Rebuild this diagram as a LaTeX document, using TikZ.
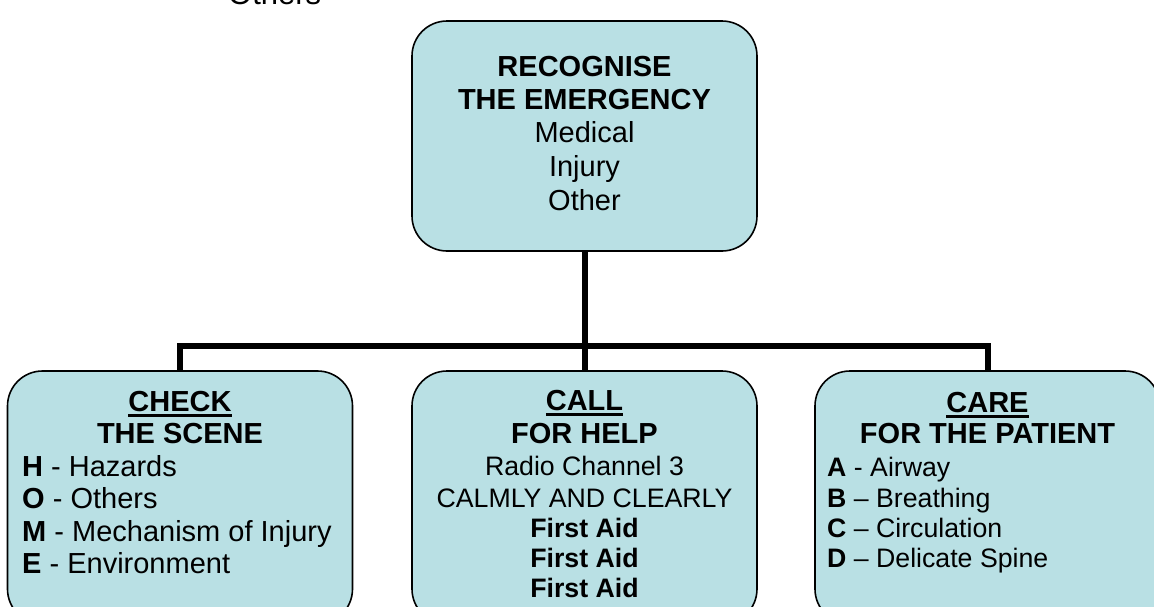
\documentclass[tikz,border=0pt]{standalone}
\usepackage{fontspec}
\setmainfont{Liberation Sans}
\definecolor{boxfill}{RGB}{185,224,228}
% underlined heading word
\newcommand\headul[1]{\setbox0\hbox{#1}\rlap{\rule[-6pt]{\wd0}{2.6pt}}\box0}
\tikzset{
  stepbox/.style={draw=black, line width=1.6pt, fill=boxfill, rounded corners=35pt,
    minimum width=345pt, inner sep=0pt},
  txt/.style={anchor=base, inner sep=0pt, font=\fontsize{29}{33}\selectfont},
  ltxt/.style={anchor=base west, inner sep=0pt, font=\fontsize{29}{33}\selectfont},
  small/.style={font=\fontsize{26.7}{31}\selectfont},
  conn/.style={line width=6pt, line join=miter, line cap=butt}
}
\begin{document}
\begin{tikzpicture}[x=1pt, y=-1pt]
\clip (0,0) rectangle (1154,606);
\fill[white] (0,0) rectangle (1154,606);

% stray line of text at the top edge
\node[ltxt, font=\fontsize{31}{35}\selectfont] (stray) at (228,4) {Others};

% boxes
\node[stepbox, minimum height=230pt] (top) at (584.5,136) {};
\node[stepbox, minimum height=253pt] (left) at (180,497.5) {};
\node[stepbox, minimum height=253pt] (mid) at (584.5,497.5) {};
\node[stepbox, minimum height=253pt] (right) at (987.5,497.5) {};

% connectors
\coordinate (bus) at (584.5,346);
\draw[conn] (top.south) -- (mid.north);
\draw[conn] (left.north) |- (bus) -| (right.north);

% top box text
\node[txt] (t1) at (584.5,76) {\textbf{RECOGNISE}};
\node[txt] (t2) at (584.5,109) {\textbf{THE EMERGENCY}};
\node[txt] (t3) at (584.5,142) {Medical};
\node[txt] (t4) at (584.5,176) {Injury};
\node[txt] (t5) at (584.5,210) {Other};

% check the scene
\node[txt] (l1) at (180,411) {\textbf{\headul{CHECK}}};
\node[txt] (l2) at (180,443.5) {\textbf{THE SCENE}};
\node[ltxt] (l3) at (22,476) {\textbf{H} - Hazards};
\node[ltxt] (l4) at (22,508.5) {\textbf{O} - Others};
\node[ltxt] (l5) at (22,541) {\textbf{M} - Mechanism of Injury};
\node[ltxt] (l6) at (22,573.5) {\textbf{E} - Environment};

% call for help
\node[txt] (m1) at (584.5,410) {\textbf{\headul{CALL}}};
\node[txt] (m2) at (584.5,443) {\textbf{FOR HELP}};
\node[txt, small] (m3) at (584.5,475) {Radio Channel 3};
\node[txt, small] (m4) at (584.5,507) {CALMLY AND CLEARLY};
\node[txt, small] (m5) at (584.5,537) {\textbf{First Aid}};
\node[txt, small] (m6) at (584.5,567) {\textbf{First Aid}};
\node[txt, small] (m7) at (584.5,597) {\textbf{First Aid}};

% care for the patient
\node[txt] (r1) at (987.5,412) {\textbf{\headul{CARE}}};
\node[txt] (r2) at (987.5,443) {\textbf{FOR THE PATIENT}};
\node[ltxt, small] (r3) at (827,476) {\textbf{A} - Airway};
\node[ltxt, small] (r4) at (827,507) {\textbf{B} -- Breathing};
\node[ltxt, small] (r5) at (827,537) {\textbf{C} -- Circulation};
\node[ltxt, small] (r6) at (827,567) {\textbf{D} -- Delicate Spine};
\end{tikzpicture}
\end{document}
